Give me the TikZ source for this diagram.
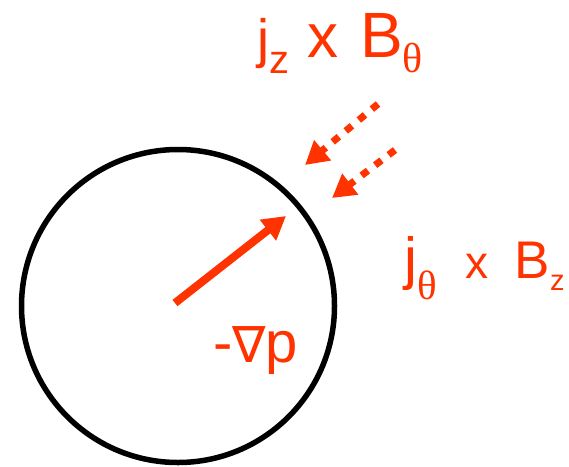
\documentclass[tikz,border=0pt]{standalone}
\usepackage{fontspec}
\setmainfont{Liberation Sans}
\newfontfamily\thetafont{Liberation Serif}
\newfontfamily\nablafont{DejaVu Sans}
\usetikzlibrary{arrows.meta}
\definecolor{forcered}{HTML}{FF3300}
\tikzset{
  forcearrow/.style={-{Triangle[length=23pt,width=25pt]}, line width=8pt, draw=forcered},
  pusharrow/.style={-{Triangle[length=23pt,width=25pt]}, line width=7pt, draw=forcered,
                    dash pattern=on 8pt off 9pt},
  forcelabel/.style={text=forcered, inner sep=0pt, anchor=base west}
}
% size, then text
\newcommand{\sz}[2]{{\fontsize{#1}{#1}\selectfont #2}}
\newcommand{\lowsub}[3]{\raisebox{-#1}{\fontsize{#2}{#2}\selectfont #3}}

\begin{document}
\begin{tikzpicture}[x=1pt,y=-1pt]
  \useasboundingbox (0,0) rectangle (569,466);
  \node[circle, draw, line width=5.5pt, minimum size=313pt, inner sep=0pt] (tube) at (178,306) {};

  \node[forcelabel] (jzbtheta) at (257,57)
    {\sz{54}{j}\lowsub{16pt}{40}{z}\sz{62}{\hspace{18pt}x\hspace{22pt}}\sz{64}{B}\lowsub{15pt}{42}{\thetafont θ}};
  \node[forcelabel] (jthetabz) at (404,278)
    {\sz{58}{j}\lowsub{21pt}{41}{\thetafont θ}\sz{46}{\hspace{29pt}x\hspace{26pt}}\sz{53}{B}\lowsub{12pt}{29}{z}};
  \node[forcelabel] (gradp) at (213,362)
    {\sz{58}{-}\sz{50}{\nablafont ∇}\sz{58}{p}};

  \coordinate (pushtopstart) at (378,104);
  \coordinate (pushtopend) at (305,165);
  \coordinate (pushlowstart) at (395,150);
  \coordinate (pushlowend) at (332,198);
  \coordinate (gradstart) at (175,303);
  \coordinate (gradtip) at (286,216);

  \draw[forcearrow] (gradstart) -- (gradtip);
  \draw[pusharrow] (pushtopstart) -- (pushtopend);
  \draw[pusharrow] (pushlowstart) -- (pushlowend);
\end{tikzpicture}
\end{document}
